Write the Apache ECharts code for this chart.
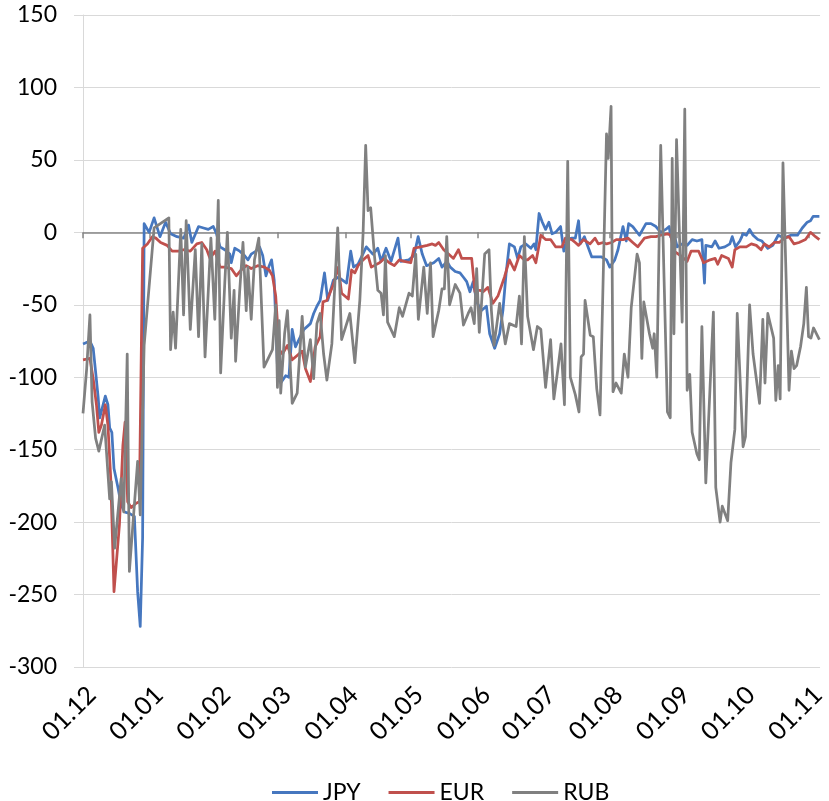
<!DOCTYPE html>
<html><head><meta charset="utf-8">
<script src="https://cdn.jsdelivr.net/npm/echarts@6/dist/echarts.min.js"></script>
<style>html,body{margin:0;padding:0;background:#fff}#c{width:829px;height:801px}</style>
</head><body><div id="c"></div>
<script>
// Day offsets counted from 01.12 (first tick)
const monthDays = [0,31,62,90,121,151,182,212,243,274,304,335];
const monthLabels = ['01.12','01.01','01.02','01.03','01.04','01.05','01.06','01.07','01.08','01.09','01.10','01.11'];
const seriesNames = ['JPY','EUR','RUB'];

const jpyDays = [0,3.2,4.7,5.8,7.0,7.7,10.3,11.5,12.3,13.3,
14.3,16.1,17.6,19.1,21.4,23.7,25.2,26.4,27.5,28.2,
30.5,32.8,35.5,38.1,40.4,43.4,46.5,48.7,50.2,53.3,
55.6,57.8,60.1,61.6,63.2,65.4,67.7,68.4,70.0,72.3,
74.5,76.1,77.6,79.8,81.4,82.9,84.4,85.9,87.0,88.2,
89.7,91.2,93.5,95.0,96.5,98.0,100.3,101.9,104.9,106.4,
107.9,109.4,111.4,112.9,115.5,117.8,121.6,123.5,124.8,126.9,
130.7,133.7,136.0,137.5,139.8,142.1,145.3,146.6,150.3,152.7,
154.6,156.5,158.5,161.8,164.1,165.6,167.9,169.4,171.7,173.9,
175.5,177.0,178.5,180.0,181.6,183.8,186.1,187.6,189.9,192.2,
193.7,195.2,196.7,199.0,200.5,202.0,204.3,206.6,208.1,208.9,
210.4,211.9,213.4,214.9,216.4,218.0,220.3,221.8,223.3,225.5,
227.1,228.6,229.4,231.3,233.2,234.7,236.9,239.2,241.5,243.0,
245.3,246.8,249.1,250.6,251.7,253.6,256.7,258.2,259.7,262.0,
264.3,266.5,268.8,270.4,271.1,272.6,274.1,276.4,278.7,281.0,
283.2,285.5,286.7,287.3,290.1,291.6,293.4,296.1,298.4,299.5,
301.0,303.0,304.5,306.0,307.5,309.1,311.3,313.2,315.9,318.2,
320.7,323.5,326.5,329.6,331.8,334.1,335.6,336.8,339.7];
const jpyVals = [-77,-75,-80,-96,-114,-128,-113,-119,-135,-138,
-163,-176,-188,-193,-194,-196,-248,-272,-211,6,
0,10,-3,7,-1,-3,-4,5,-7,4,
3,2,4,-1,-10,-12,-15,-21,-11,-13,
-16,-19,-15,-13,-10,-16,-30,-23,-19,-33,
-93,-104,-99,-100,-67,-79,-72,-67,-63,-56,
-51,-47,-28,-47,-33,-31,-35,-13,-24,-22,
-10,-15,-11,-20,-11,-20,-4,-20,-19,-16,
-3,-15,-23,-21,-18,-24,-20,-24,-27,-28,
-31,-34,-41,-34,-48,-54,-51,-70,-80,-70,
-54,-28,-8,-10,-18,-10,-8,-11,-8,-12,
13,7,2,7,-1,0,4,-13,-5,-4,
-4,8,-8,-3,-11,-17,-17,-17,-19,-24,
-19,-12,4,-6,6,4,-2,2,6,6,
4,0,2,4,-3,-1,-10,-8,-9,-5,
-6,-5,-35,-9,-10,-6,-11,-10,-8,-3,
-10,-6,-1,-2,2,-2,-5,-6,-11,-9,
-2,-4,-2,-2,3,7,8,11,11];

const eurDays = [0,3.2,4.7,6.2,7.3,8.5,10.3,11.5,12.8,14.3,
16.8,18.4,19.4,20.6,22.2,24.5,26.0,27.5,29.7,32.0,
33.6,35.8,38.8,41.1,44.2,46.4,49.5,52.5,54.8,57.1,
58.6,60.9,63.2,65.4,68.4,70.7,73.0,75.3,77.6,80.6,
83.7,85.9,87.4,88.9,90.5,92.0,94.3,96.5,98.8,101.1,
102.6,104.9,107.1,109.4,110.7,112.5,115.5,117.8,119.3,122.4,
123.9,125.4,126.9,129.2,131.5,133.0,136.8,139.0,141.3,143.6,
145.9,148.1,151.2,152.7,155.7,158.8,161.1,162.6,164.1,166.4,
168.6,170.9,173.2,174.7,179.3,180.8,183.1,184.6,186.8,189.1,
191.4,194.4,196.7,199.0,201.3,203.6,205.1,207.4,208.9,211.2,
213.4,215.7,218.0,221.0,222.5,225.5,227.1,228.6,230.9,233.9,
236.2,237.7,240.0,241.5,243.8,246.0,249.1,251.4,253.6,255.9,
259.0,262.0,264.3,266.5,269.6,271.1,272.6,275.6,278.7,280.5,
284.0,286.3,289.3,291.6,292.8,294.6,297.7,299.5,300.7,303.0,
306.0,308.3,310.6,312.8,314.3,316.6,318.9,321.2,323.5,325.7,
328.0,330.3,333.3,335.6,337.9,339.7];
const eurVals = [-88,-87,-101,-119,-138,-133,-119,-133,-170,-248,
-202,-147,-131,-186,-190,-187,-186,-11,-8,-3,
-4,-7,-9,-13,-13,-12,-13,-8,-7,-12,
-18,-13,-24,-24,-25,-30,-26,-23,-25,-23,
-24,-26,-30,-44,-81,-84,-78,-88,-85,-82,
-94,-103,-79,-72,-48,-47,-36,-24,-42,-46,
-26,-28,-23,-19,-16,-24,-21,-18,-21,-23,
-19,-20,-21,-11,-10,-9,-8,-9,-7,-12,
-15,-18,-12,-18,-18,-41,-40,-41,-38,-49,
-44,-31,-19,-26,-16,-19,-19,-16,-21,-2,
-5,-5,-10,-10,-4,-5,-7,-9,-5,-8,
-4,-8,-7,-8,-7,-5,-5,-4,-7,-10,
-4,-3,-3,-2,-1,-2,-13,-16,-20,-13,
-13,-21,-19,-18,-22,-16,-18,-24,-12,-10,
-10,-8,-9,-12,-8,-10,-7,-7,-4,-3,
-8,-7,-5,0,-3,-5];

const rubDays = [0,1.7,3.2,4.2,5.8,7.3,10.0,12.3,13.1,14.6,
17.6,18.8,20.4,21.4,25.2,26.4,28.2,32.8,39.6,40.4,
41.6,42.7,45.1,46.4,47.6,49.5,51.8,53.3,54.8,56.3,
59.0,60.8,62.4,63.5,65.4,66.6,68.4,69.7,70.4,72.3,
73.8,75.3,76.1,77.6,79.1,81.1,83.5,87.4,88.9,89.7,
90.5,91.2,93.0,94.3,96.5,98.8,101.1,102.6,104.9,106.4,
107.9,109.4,111.0,112.5,114.8,117.5,119.3,120.8,123.1,125.4,
127.7,129.2,130.4,131.5,132.7,134.5,136.0,137.5,138.6,139.5,
140.5,143.6,145.9,147.4,150.4,151.9,153.5,154.7,157.2,158.8,
160.3,161.5,164.1,165.6,166.7,167.8,169.1,171.7,173.9,175.5,
177.7,179.0,180.5,181.6,182.8,183.8,185.3,187.3,188.4,189.6,
192.2,194.8,196.7,199.8,201.3,202.3,203.6,205.1,207.8,209.6,
211.2,213.4,215.7,217.2,219.0,220.5,222.1,223.6,224.8,227.1,
228.8,229.8,230.9,231.6,234.0,235.4,237.0,238.5,241.5,242.3,
243.6,244.5,245.9,248.3,249.7,251.4,252.9,255.6,256.7,257.8,
258.7,261.3,262.8,263.5,264.7,266.5,269.6,270.9,271.8,272.6,
273.8,276.4,277.6,278.7,279.9,281.0,283.2,284.3,285.5,287.3,
290.8,291.9,292.8,293.9,294.9,297.4,298.9,300.7,301.8,304.5,
305.6,307.5,309.1,312.1,313.6,314.6,315.9,318.6,319.6,320.7,
321.6,322.9,324.5,325.7,326.8,328.0,329.2,331.0,332.5,333.7,
334.7,335.8,337.0,339.7];
const rubVals = [-125,-94,-57,-117,-142,-151,-133,-184,-172,-218,
-170,-193,-84,-234,-158,-195,-78,3,10,-81,
-55,-80,2,-57,8,-67,-12,-72,-8,-86,
-4,-60,22,-97,-35,0,-73,-40,-89,-40,
-7,-54,-24,-60,-19,-4,-93,-81,-50,-107,
-61,-111,-70,-54,-118,-111,-58,-93,-74,-101,
-63,-56,-84,-102,-77,3,-74,-67,-56,-90,
-47,-1,60,15,17,-17,-40,-42,-57,-16,
-62,-72,-52,-58,-42,-44,-15,-60,-24,-56,
-21,-72,-54,-39,-39,-3,-50,-36,-42,-64,
-56,-52,-63,-25,-69,-50,-15,-12,-54,-78,
-49,-77,-63,-65,-44,-77,-3,-58,-81,-65,
-67,-107,-74,-115,-95,-77,-119,49,-100,-112,
-124,-86,-84,-47,-71,-72,-108,-126,68,51,
87,-110,-104,-111,-84,-100,-52,-15,-21,-87,
-48,-70,-80,-70,-100,60,-124,-128,51,-70,
64,-62,85,-109,-98,-138,-153,-157,-65,-173,
-55,-176,-177,-200,-189,-199,-159,-136,-56,-148,
-141,-50,-84,-118,-60,-104,-56,-73,-116,-92,
-115,48,-40,-109,-82,-94,-92,-79,-63,-38,
-72,-73,-66,-74];

const zip = (d, v) => d.map((x, i) => [x, v[i]]);
const FONT = 'Lato, "Open Sans", sans-serif';
const colors = ['#4677BF', '#C0504D', '#808080'];
const chart = echarts.init(document.getElementById('c'), null, {renderer: 'canvas'});
const mkSeries = (name, data, color) => ({
  name, type: 'line', xAxisIndex: 0, yAxisIndex: 0, data, symbol: 'none',
  lineStyle: {color, width: 2.75, join: 'round'}, itemStyle: {color}
});
chart.setOption({
  animation: false,
  backgroundColor: '#ffffff',
  grid: {left: 83, right: 0, top: 15, bottom: 134},
  legend: {
    left: 272, top: 781, padding: 0, icon: 'rect',
    itemWidth: 46, itemHeight: 3, itemGap: 28,
    data: seriesNames,
    textStyle: {fontFamily: FONT, fontSize: 23, color: '#000', padding: [0, 0, 0, 0]}
  },
  xAxis: [
    {
      type: 'value', min: 0, max: 340, position: 'top',
      axisLine: {onZero: true, lineStyle: {color: '#868686', width: 1.5}},
      axisTick: {show: true, inside: true, length: 6, customValues: monthDays, lineStyle: {color: '#868686', width: 1.5}},
      axisLabel: {show: false},
      splitLine: {show: false}
    },
    {
      type: 'value', min: 0, max: 340, position: 'bottom',
      axisLine: {show: false, onZero: false},
      axisTick: {show: false},
      splitLine: {show: false},
      axisLabel: {
        customValues: monthDays,
        formatter: v => monthLabels[monthDays.indexOf(v)],
        rotate: 45, verticalAlign: 'top', margin: 15,
        fontFamily: FONT, fontSize: 25, color: '#000'
      }
    }
  ],
  yAxis: {
    type: 'value', min: -300, max: 150, interval: 50,
    axisLine: {show: true, onZero: false, lineStyle: {color: '#d9d9d9', width: 1}},
    axisTick: {show: true, length: 9, lineStyle: {color: '#d9d9d9'}},
    splitLine: {lineStyle: {color: '#d9d9d9', width: 1}},
    axisLabel: {margin: 26, fontFamily: FONT, fontSize: 23, color: '#000'}
  },
  series: [
    mkSeries('JPY', zip(jpyDays, jpyVals), colors[0]),
    mkSeries('EUR', zip(eurDays, eurVals), colors[1]),
    mkSeries('RUB', zip(rubDays, rubVals), colors[2])
  ]
});
</script></body></html>
